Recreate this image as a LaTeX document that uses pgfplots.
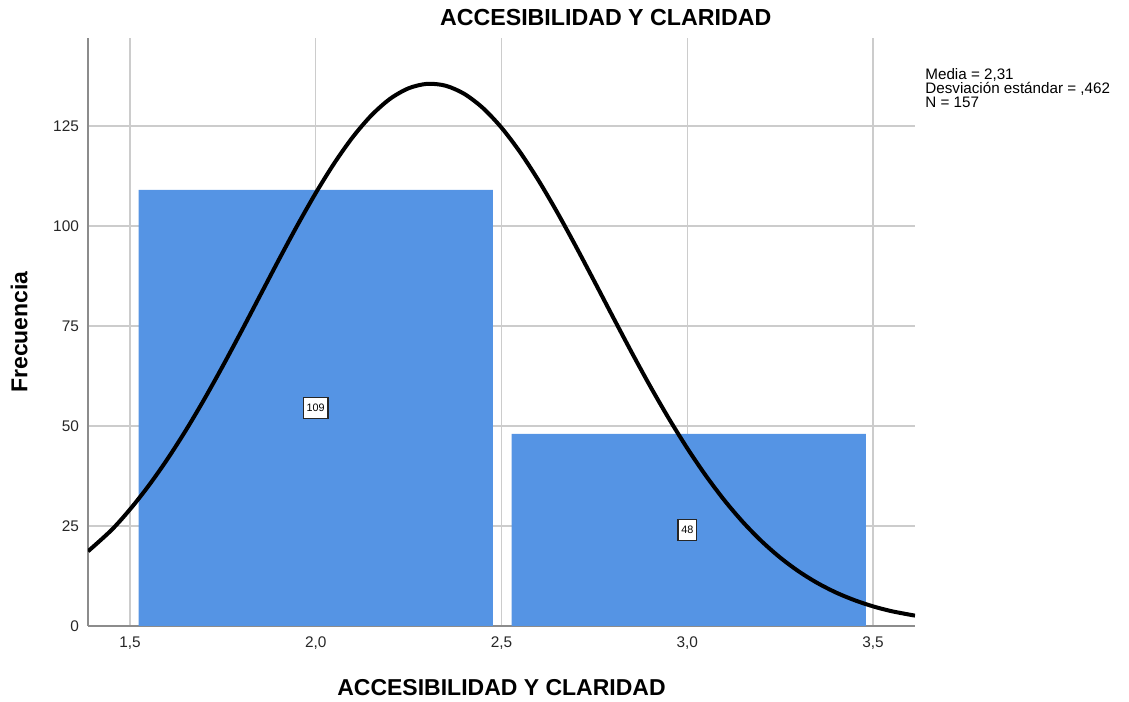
\documentclass[border=0pt]{standalone}
\usepackage{pgfplots}
\pgfplotsset{compat=1.18}
\usepackage{fontspec}
\setmainfont{Liberation Sans}
\definecolor{barblue}{RGB}{85,148,228}
\definecolor{gridgray}{RGB}{204,204,204}
\definecolor{axgray}{RGB}{140,140,140}
\begin{document}
\begin{tikzpicture}
\useasboundingbox (-44pt,-37.5pt) rectangle (520.5pt,313pt);
\begin{axis}[
    at={(0,0)}, anchor=south west,
    scale only axis,
    width=413.5pt, height=294pt,
    xmin=1.387, xmax=3.613,
    ymin=0, ymax=147,
    axis x line*=bottom, axis y line*=left,
    axis line style={draw=axgray, line width=0.9pt, -},
    xtick={1.5,2,2.5,3,3.5},
    ytick={0,25,50,75,100,125},
    major tick length=0pt,
    grid=major,
    grid style={gridgray, line width=0.75pt},
    /pgf/number format/assume math mode=true,
    xticklabel style={/pgf/number format/fixed, /pgf/number format/fixed zerofill,
        /pgf/number format/precision=1, /pgf/number format/use comma, yshift=-2pt},
    tick label style={font=\fontsize{7.7}{8}\selectfont, text=black!85},
    yticklabel style={xshift=-1pt},
    title={ACCESIBILIDAD Y CLARIDAD},
    title style={font=\fontsize{11.6}{13}\bfseries, at={(0.626,1)}, anchor=south, yshift=-3.5pt},
    xlabel={ACCESIBILIDAD Y CLARIDAD},
    xlabel style={font=\fontsize{11.5}{13}\bfseries, yshift=-8pt},
    ylabel={Frecuencia},
    ylabel style={font=\fontsize{11.5}{13}\bfseries, yshift=6pt},
    clip=true,
]
\addplot[ybar, bar width=0.953, fill=barblue, draw=none] coordinates {(2,109) (3.004,48)};
\addplot[black, line width=2pt, smooth] coordinates {
    (1.387,18.67) (1.45,23.97) (1.5,29.15) (1.55,35.04) (1.6,41.62) (1.65,48.86)
    (1.7,56.70) (1.75,65.03) (1.8,73.71) (1.85,82.58) (1.9,91.44) (1.95,100.07)
    (2.0,108.24) (2.05,115.71) (2.1,122.27) (2.15,127.68) (2.2,131.79) (2.25,134.43)
    (2.3,135.54) (2.35,135.06) (2.4,133.02) (2.45,129.49) (2.5,124.58) (2.55,118.46)
    (2.6,111.33) (2.65,103.41) (2.7,94.93) (2.75,86.14) (2.8,77.25) (2.85,68.47)
    (2.9,59.98) (2.95,51.94) (3.0,44.44) (3.05,37.59) (3.1,31.42) (3.15,25.96)
    (3.2,21.20) (3.25,17.11) (3.3,13.65) (3.35,10.76) (3.4,8.38) (3.45,6.46)
    (3.5,4.91) (3.55,3.70) (3.613,2.59)
};
\node[draw=black!85, line width=0.9pt, fill=white, inner xsep=1.6pt, minimum height=10pt, font=\fontsize{5.4}{6}\selectfont] at (axis cs:2.0,54.5) {109};
\node[draw=black!85, line width=0.9pt, fill=white, inner xsep=1.6pt, minimum height=10pt, font=\fontsize{5.4}{6}\selectfont] at (axis cs:3.0,24) {48};
\end{axis}
\begin{scope}[every node/.style={anchor=base west, inner sep=0pt, font=\fontsize{7.6}{8}\selectfont}]
\node at (418.5pt,273pt) {Media = 2,31};
\node at (418.5pt,266.2pt) {Desviación estándar = ,462};
\node at (418.5pt,259.4pt) {N = 157};
\end{scope}
\end{tikzpicture}
\end{document}
